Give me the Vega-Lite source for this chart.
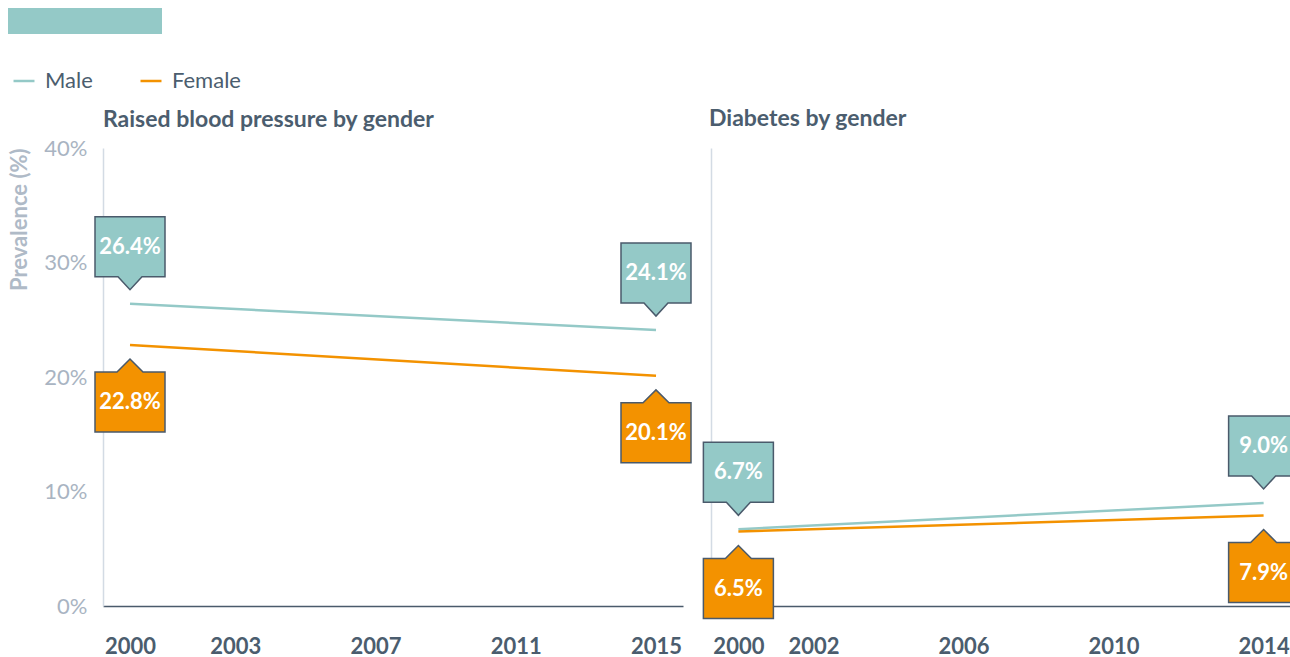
{
  "$schema": "https://vega.github.io/schema/vega-lite/v6.json",
  "padding": {"left": 8, "top": 8, "right": 0, "bottom": 0},
  "background": "white",
  "config": {
    "font": "Lato",
    "view": {"stroke": null},
    "legend": {
      "orient": "none",
      "legendX": 4,
      "legendY": 61,
      "direction": "horizontal",
      "title": null,
      "symbolType": "stroke",
      "symbolStrokeWidth": 2.5,
      "symbolSize": 440,
      "labelFontSize": 22,
      "labelColor": "#4b5d6e",
      "labelOffset": 9,
      "columnPadding": 42
    }
  },
  "data": {
    "values": [
      {"panel": "bp", "gender": "Male", "year": 2000, "value": 26.4},
      {"panel": "bp", "gender": "Male", "year": 2015, "value": 24.1},
      {"panel": "bp", "gender": "Female", "year": 2000, "value": 22.8},
      {"panel": "bp", "gender": "Female", "year": 2015, "value": 20.1},
      {"panel": "diabetes", "gender": "Male", "year": 2000, "value": 6.7},
      {"panel": "diabetes", "gender": "Male", "year": 2014, "value": 9.0},
      {"panel": "diabetes", "gender": "Female", "year": 2000, "value": 6.5},
      {"panel": "diabetes", "gender": "Female", "year": 2014, "value": 7.9}
    ]
  },
  "transform": [{"calculate": "format(datum.value, '.1f') + '%'", "as": "label"}],
  "spacing": 74,
  "vconcat": [
    {
      "width": 154,
      "height": 26,
      "view": {"fill": "#94c9c7", "stroke": null},
      "mark": {"type": "text", "text": ""},
      "encoding": {}
    },
    {
      "bounds": "flush",
      "spacing": 28,
      "hconcat": [
        {
          "width": 675,
          "height": 458,
          "title": {"text": "Raised blood pressure by gender", "anchor": "start", "frame": "group", "fontSize": 23, "fontWeight": "bold", "color": "#4b5d6e", "offset": 5, "dx": 95},
          "transform": [{"filter": "datum.panel === 'bp'"}],
          "encoding": {
            "x": {"field": "year", "type": "quantitative",
              "scale": {"domain": [1999.23, 2015.77], "range": [95, 675], "nice": false, "zero": false},
              "axis": {"values": [2000, 2003, 2007, 2011, 2015], "format": "d", "title": null, "labelFontSize": 22, "labelFontWeight": "bold", "labelColor": "#4b5d6e", "labelPadding": 30, "ticks": false, "grid": false, "domainColor": "#4a5a6b", "domainWidth": 1.5}},
            "y": {"field": "value", "type": "quantitative",
              "scale": {"domain": [0, 40], "nice": false, "zero": true},
              "axis": {"offset": -95, "values": [0, 10, 20, 30, 40], "labelExpr": "datum.value + '%'", "title": "Prevalence (%)", "titleAnchor": "end", "titleFontSize": 22, "titleFontWeight": "bold", "titleColor": "#afbac7", "titlePadding": 12, "labelFontSize": 22, "labelColor": "#a9b4c2", "labelPadding": 16, "ticks": false, "grid": false, "domainColor": "#d3dbe4", "domainWidth": 1.5}},
            "color": {"field": "gender", "type": "nominal", "scale": {"domain": ["Male", "Female"], "range": ["#94c9c7", "#f39200"]}}
          },
          "layer": [
            {"mark": {"type": "line", "strokeWidth": 2.5}},
            {"transform": [{"filter": "datum.gender === 'Male'"}],
             "mark": {"type": "point", "shape": "M -3.5 -8.7 L 3.5 -8.7 L 3.5 -2.7 L 1.2 -2.7 L 0 -1.4 L -1.2 -2.7 L -3.5 -2.7 Z", "size": 400, "filled": true, "opacity": 1, "stroke": "#4a5a6b", "strokeWidth": 1.5}},
            {"transform": [{"filter": "datum.gender === 'Female'"}],
             "mark": {"type": "point", "shape": "M -3.5 8.7 L 3.5 8.7 L 3.5 2.7 L 1.3 2.7 L 0 1.4 L -1.3 2.7 L -3.5 2.7 Z", "size": 400, "filled": true, "opacity": 1, "stroke": "#4a5a6b", "strokeWidth": 1.5}},
            {"transform": [{"filter": "datum.gender === 'Male'"}],
             "mark": {"type": "text", "dy": -57, "fontSize": 22, "fontWeight": "bold", "baseline": "middle"},
             "encoding": {"text": {"field": "label"}, "color": {"value": "white"}}},
            {"transform": [{"filter": "datum.gender === 'Female'"}],
             "mark": {"type": "text", "dy": 57, "fontSize": 22, "fontWeight": "bold", "baseline": "middle"},
             "encoding": {"text": {"field": "label"}, "color": {"value": "white"}}}
          ]
        },
        {
          "width": 580,
          "height": 458,
          "title": {"text": "Diabetes by gender", "anchor": "start", "frame": "group", "fontSize": 23, "fontWeight": "bold", "color": "#4b5d6e", "offset": 17, "dx": -2},
          "transform": [{"filter": "datum.panel === 'diabetes'"}],
          "encoding": {
            "x": {"field": "year", "type": "quantitative",
              "scale": {"domain": [1999.27, 2014.73], "nice": false, "zero": false},
              "axis": {"values": [2000, 2002, 2006, 2010, 2014], "format": "d", "title": null, "labelFontSize": 22, "labelFontWeight": "bold", "labelColor": "#4b5d6e", "labelPadding": 30, "ticks": false, "grid": false, "domainColor": "#4a5a6b", "domainWidth": 1.5}},
            "y": {"field": "value", "type": "quantitative",
              "scale": {"domain": [0, 40], "nice": false, "zero": true},
              "axis": {"labels": false, "ticks": false, "title": null, "grid": false, "domainColor": "#d3dbe4", "domainWidth": 1.5}},
            "color": {"field": "gender", "type": "nominal", "scale": {"domain": ["Male", "Female"], "range": ["#94c9c7", "#f39200"]}}
          },
          "layer": [
            {"mark": {"type": "line", "strokeWidth": 2.5}},
            {"transform": [{"filter": "datum.gender === 'Male'"}],
             "mark": {"type": "point", "shape": "M -3.5 -8.7 L 3.5 -8.7 L 3.5 -2.7 L 1.2 -2.7 L 0 -1.4 L -1.2 -2.7 L -3.5 -2.7 Z", "size": 400, "filled": true, "opacity": 1, "stroke": "#4a5a6b", "strokeWidth": 1.5}},
            {"transform": [{"filter": "datum.gender === 'Female'"}],
             "mark": {"type": "point", "shape": "M -3.5 8.7 L 3.5 8.7 L 3.5 2.7 L 1.3 2.7 L 0 1.4 L -1.3 2.7 L -3.5 2.7 Z", "size": 400, "filled": true, "opacity": 1, "stroke": "#4a5a6b", "strokeWidth": 1.5}},
            {"transform": [{"filter": "datum.gender === 'Male'"}],
             "mark": {"type": "text", "dy": -57, "fontSize": 22, "fontWeight": "bold", "baseline": "middle"},
             "encoding": {"text": {"field": "label"}, "color": {"value": "white"}}},
            {"transform": [{"filter": "datum.gender === 'Female'"}],
             "mark": {"type": "text", "dy": 57, "fontSize": 22, "fontWeight": "bold", "baseline": "middle"},
             "encoding": {"text": {"field": "label"}, "color": {"value": "white"}}}
          ]
        }
      ]
    }
  ]
}
